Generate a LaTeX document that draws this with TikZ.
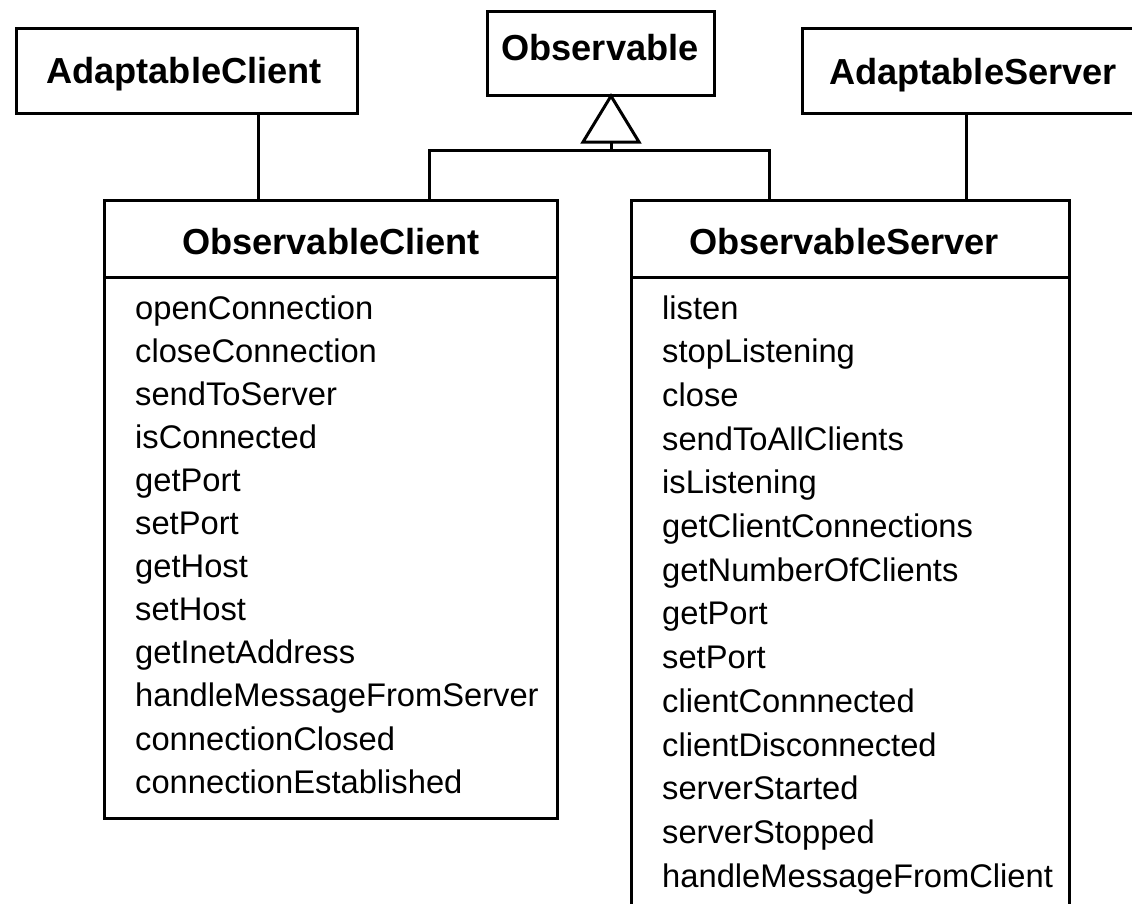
\documentclass[tikz,border=0pt]{standalone}
\usepackage{fontspec}
\setmainfont{Liberation Sans}
\begin{document}
\begin{tikzpicture}[x=1pt,y=-1pt,
  box/.style={draw,line width=3pt,rectangle,inner sep=0pt,outer sep=0pt,anchor=north west},
  title/.style={font=\fontsize{36.2}{40}\selectfont\bfseries,anchor=base,inner sep=0pt},
  member/.style={font=\fontsize{32.7}{40}\selectfont,anchor=base west,inner sep=0pt},
  link/.style={line width=3pt},
]
\useasboundingbox (0,0) rectangle (1132,903);

% class boxes
\node[box,minimum width=341pt,minimum height=85pt] (ac) at (16,28) {};
\node[box,minimum width=227pt,minimum height=84pt] (ob) at (487,11) {};
\node[box,minimum width=340pt,minimum height=85pt] (as) at (802,28) {};
\node[box,minimum width=453pt,minimum height=618pt] (oc) at (104,200) {};
\node[box,minimum width=438pt,minimum height=720pt] (os) at (631,200) {};

% compartment dividers
\draw[link] (oc.west |- 0,277) -- (oc.east |- 0,277);
\draw[link] (os.west |- 0,277) -- (os.east |- 0,277);

% class names
\node[title] (tac) at (184,83) {AdaptableClient};
\node[title] (tob) at (600,60) {Observable};
\node[title] (tas) at (973,84) {AdaptableServer};
\node[title] (toc) at (331,254) {ObservableClient};
\node[title] (tos) at (844,254) {ObservableServer};

% operations
\foreach \m [count=\i from 0] in {openConnection,closeConnection,sendToServer,isConnected,getPort,setPort,getHost,setHost,getInetAddress,handleMessageFromServer,connectionClosed,connectionEstablished}
  \node[member] (cm\i) at (135,{319+43.1*\i}) {\m};
\foreach \m [count=\i from 0] in {listen,stopListening,close,sendToAllClients,isListening,getClientConnections,getNumberOfClients,getPort,setPort,clientConnnected,clientDisconnected,serverStarted,serverStopped,handleMessageFromClient}
  \node[member] (sm\i) at (662,{319+43.7*\i}) {\m};

% generalization towards Observable
\coordinate (apex) at (611,96);
\coordinate (bl) at (583,142);
\coordinate (br) at (639,142);
\coordinate (stem) at (611,150);
\draw[link,line join=miter] (apex) -- (bl) -- (br) -- cycle;
\draw[link] (stem) -- (apex |- bl);
\draw[link,line join=miter] (oc.north -| 429,0) -- (429,150) -- (769,150) -- (os.north -| 769,0);

% associations
\draw[link] (ac.south -| 258,0) -- (oc.north -| 258,0);
\draw[link] (as.south -| 966,0) -- (os.north -| 966,0);
\end{tikzpicture}
\end{document}
